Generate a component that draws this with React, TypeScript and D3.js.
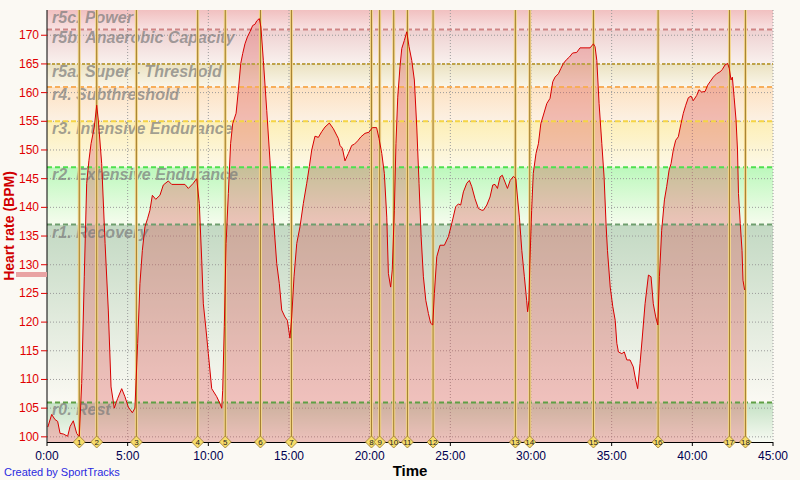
import React from 'react';
import * as d3 from 'd3';

// ---- data ----
const times = [
  0.05, 0.29, 0.5, 0.66, 0.81, 1.01, 1.28, 1.43, 1.63, 1.84, 2.0, 2.15, 2.31, 2.46, 2.6, 2.73, 2.93, 3.08, 3.18, 3.39,
  3.6, 3.8, 3.97, 4.17, 4.38, 4.63, 4.83, 5.04, 5.29, 5.45, 5.62, 5.76, 5.91, 6.07, 6.24, 6.38, 6.53, 6.74, 7.0, 7.21,
  7.52, 7.73, 8.55, 8.76, 9.07, 9.17, 9.28, 9.44, 9.59, 9.69, 9.86, 10.0, 10.21, 10.52, 10.72, 10.83, 10.89, 10.99, 11.1, 11.24,
  11.38, 11.51, 11.72, 11.86, 12.01, 12.13, 12.27, 12.42, 12.58, 12.75, 12.89, 13.0, 13.16, 13.26, 13.41, 13.62, 13.82, 14.03, 14.24, 14.4,
  14.55, 14.75, 14.9, 15.06, 15.17, 15.31, 15.48, 15.68, 15.89, 16.1, 16.26, 16.41, 16.61, 16.82, 17.03, 17.23, 17.5, 17.75, 17.95, 18.06,
  18.16, 18.31, 18.47, 18.68, 18.89, 19.05, 19.26, 19.46, 19.71, 19.96, 20.17, 20.43, 20.58, 20.75, 20.91, 21.06, 21.16, 21.3, 21.4, 21.53,
  21.63, 21.74, 21.88, 21.99, 22.15, 22.3, 22.44, 22.61, 22.77, 22.92, 23.06, 23.19, 23.33, 23.48, 23.64, 23.78, 23.91, 24.01, 24.16, 24.36,
  24.63, 24.88, 25.09, 25.33, 25.5, 25.64, 25.81, 26.02, 26.18, 26.33, 26.53, 26.74, 26.95, 27.05, 27.26, 27.46, 27.63, 27.77, 27.92, 28.08,
  28.22, 28.39, 28.54, 28.71, 28.91, 29.06, 29.16, 29.28, 29.43, 29.59, 29.73, 29.79, 29.87, 29.93, 30.04, 30.14, 30.31, 30.46, 30.61, 30.77,
  30.98, 31.18, 31.35, 31.49, 31.7, 31.85, 32.01, 32.22, 32.38, 32.58, 32.83, 33.04, 33.66, 33.87, 33.97, 34.08, 34.22, 34.39, 34.53, 34.66,
  34.74, 34.91, 35.07, 35.22, 35.32, 35.42, 35.63, 35.78, 35.94, 36.14, 36.34, 36.49, 36.61, 36.76, 36.9, 37.07, 37.28, 37.44, 37.58, 37.73,
  37.86, 37.96, 38.1, 38.27, 38.41, 38.56, 38.68, 38.82, 38.97, 39.13, 39.3, 39.44, 39.59, 39.75, 39.92, 40.06, 40.27, 40.41, 40.58, 40.79,
  40.95, 41.1, 41.3, 41.51, 41.71, 41.85, 42.02, 42.19, 42.29, 42.4, 42.48, 42.59, 42.71, 42.8, 42.86, 42.97, 43.08, 43.14, 43.24,
];
const heartRate = [
  101.7, 103.9, 103.0, 102.7, 100.6, 100.5, 100.1, 101.8, 102.8, 100.6, 100.0, 109.3, 127.9, 144.2, 148.2, 151.1, 154.0, 157.8, 155.2, 147.6,
  133.7, 122.1, 108.7, 105.0, 106.7, 108.4, 107.0, 105.2, 104.2, 105.0, 116.3, 126.7, 132.5, 136.6, 138.1, 139.5, 142.1, 141.4, 142.1, 143.9,
  144.6, 144.0, 144.0, 143.3, 144.2, 144.6, 145.0, 140.7, 130.8, 123.2, 118.6, 114.5, 108.4, 107.0, 105.8, 105.0, 108.1, 119.2, 133.7, 142.4,
  151.1, 154.6, 156.4, 160.4, 165.1, 166.8, 168.5, 169.7, 170.6, 171.7, 171.9, 172.5, 172.9, 171.4, 165.6, 156.9, 148.2, 138.3, 130.2, 126.7,
  122.1, 120.9, 120.3, 117.2, 120.9, 127.9, 133.7, 136.6, 140.7, 144.2, 147.1, 150.0, 152.4, 152.2, 153.2, 154.0, 154.7, 153.7, 152.6, 152.0,
  150.8, 150.3, 148.1, 149.4, 150.8, 151.0, 151.6, 152.3, 152.9, 153.1, 153.9, 153.9, 152.0, 149.4, 145.9, 138.3, 128.5, 126.1, 129.1, 139.5,
  151.1, 159.2, 164.5, 167.7, 169.1, 170.6, 168.0, 165.6, 162.2, 154.0, 144.2, 134.9, 127.9, 123.8, 121.5, 119.8, 119.5, 125.0, 131.4, 133.4,
  133.4, 134.9, 137.2, 140.1, 140.6, 140.4, 142.7, 144.2, 144.7, 143.6, 141.5, 139.8, 139.5, 139.5, 140.4, 141.8, 143.9, 144.0, 143.3, 145.3,
  145.6, 144.4, 143.3, 144.7, 145.4, 145.0, 141.8, 138.3, 132.5, 127.9, 123.8, 121.8, 123.8, 130.2, 139.5, 145.9, 149.4, 151.1, 154.6, 156.1,
  158.1, 159.0, 161.9, 162.7, 163.3, 164.2, 165.1, 165.8, 166.2, 166.9, 167.0, 167.8, 167.8, 168.5, 168.0, 165.6, 158.1, 151.1, 145.3, 136.6,
  132.5, 126.1, 122.7, 120.3, 116.3, 114.8, 114.5, 114.8, 113.4, 113.4, 112.2, 109.9, 108.4, 112.8, 117.4, 123.2, 128.2, 127.9, 123.2, 120.9,
  119.5, 127.9, 136.0, 141.3, 143.6, 146.5, 147.6, 150.0, 151.7, 152.3, 154.6, 156.4, 157.8, 159.1, 159.4, 158.6, 159.5, 160.5, 160.1, 160.2,
  161.3, 161.9, 162.7, 163.3, 163.6, 164.0, 164.8, 165.1, 164.2, 162.2, 162.7, 159.2, 155.2, 150.0, 142.4, 137.2, 132.5, 127.3, 125.6,
];
const lapTimes = [2.0, 3.08, 5.54, 9.34, 11.05, 13.23, 15.15, 20.11, 20.62, 21.49, 22.34, 23.93, 29.03, 29.92, 33.87, 37.88, 42.3, 43.29];
const zoneNames = [
  'r0. Rest', 'r1. Recovery', 'r2. Extensive Endurance', 'r3. Intensive Endurance',
  'r4. Subthreshold', 'r5a. Super - Threshold', 'r5b. Anaerobic Capacity', 'r5c. Power',
];
const zoneUpperBounds = [106, 137, 147, 155, 161, 165, 171];
const yTicks = [100, 105, 110, 115, 120, 125, 130, 135, 140, 145, 150, 155, 160, 165, 170];
const xTicks = [0, 5, 10, 15, 20, 25, 30, 35, 40, 45];
const xTickLabels = ['0:00', '5:00', '10:00', '15:00', '20:00', '25:00', '30:00', '35:00', '40:00', '45:00'];

// ---- styles ----
const zoneTop = ['#c4e1c4', '#c3d9c3', '#bcf8bc', '#fdefb6', '#fde2c2', '#ebe2c1', '#eed0d0', '#f1c0c0'];
const zoneBottom = ['#f7faf2', '#fbf9f3', '#f6fcee', '#fcf8e8', '#fcf1e4', '#faf6ea', '#f9f1ee', '#f8e2e2'];
const lineColors = ['#5f9f45', '#6e9e6e', '#4fe04f', '#f5d545', '#f7ae5a', '#bfa245', '#cf8585'];
const lineDash = ['5,3', '5,3', '5,3', '5,3', '5,3', '3,2', '5,3'];

const W = 800, H = 480;
const L = 47, R = 773, T = 10, B = 442;
const FONT = '"Liberation Sans", Arial, sans-serif';

export default function App() {
  const x = d3.scaleLinear().domain([0, 45]).range([L, R]);
  const y = d3.scaleLinear().domain([99.1, 174.4]).range([B, T]);
  const pts: [number, number][] = times.map((t, i) => [t, heartRate[i]]);
  const area = d3.area<[number, number]>().x(d => x(d[0])).y0(B).y1(d => y(d[1]))(pts) || '';
  const line = d3.line<[number, number]>().x(d => x(d[0])).y(d => y(d[1]))(pts) || '';
  const bounds = [y.domain()[0], ...zoneUpperBounds, y.domain()[1]];

  return (
    <svg width={W} height={H} style={{ position: 'absolute', left: 0, top: 0 }} fontFamily={FONT}>
      <defs>
        {zoneNames.map((_, i) => (
          <linearGradient key={i} id={`zg${i}`} x1="0" y1="0" x2="0" y2="1">
            <stop offset="0" stopColor={zoneTop[i]} />
            <stop offset="1" stopColor={zoneBottom[i]} />
          </linearGradient>
        ))}
      </defs>
      <rect x={0} y={0} width={W} height={H} fill="#fbf9f3" />
      {/* zones */}
      {zoneNames.map((_, i) => (
        <rect key={i} x={L} y={y(bounds[i + 1])} width={R - L} height={y(bounds[i]) - y(bounds[i + 1])} fill={`url(#zg${i})`} />
      ))}
      {/* grid */}
      {yTicks.map(v => (
        <line key={v} x1={L} x2={R} y1={y(v)} y2={y(v)} stroke="#9a9a9a" strokeDasharray="1,2" />
      ))}
      {xTicks.slice(1).map(v => (
        <line key={v} x1={x(v)} x2={x(v)} y1={T} y2={B} stroke="#9a9a9a" strokeDasharray="1,2" />
      ))}
      {/* area */}
      <path d={area} fill="rgba(220,80,80,0.33)" />
      {/* zone lines */}
      {zoneUpperBounds.map((v, i) => (
        <line key={v} x1={L} x2={R} y1={y(v)} y2={y(v)} stroke={lineColors[i]} strokeWidth={2} strokeDasharray={lineDash[i]} />
      ))}
      {/* zone labels */}
      {zoneNames.map((n, i) => (
        <text key={n} x={L + 5} y={y(bounds[i + 1]) + 13} fontSize={16} fontWeight="bold" fontStyle="italic" fill="#7a7a7a" fillOpacity={0.7}>{n}</text>
      ))}
      {/* lap lines */}
      {lapTimes.map((t, i) => (
        <g key={i}>
          <line x1={x(t)} x2={x(t)} y1={T} y2={B} stroke="#f3d68c" strokeWidth={3} />
          <line x1={x(t)} x2={x(t)} y1={T} y2={B} stroke="#a07c2c" strokeWidth={1} />
        </g>
      ))}
      {/* HR line */}
      <path d={line} fill="none" stroke="#d80000" strokeWidth={1} />
      {/* axes */}
      <line x1={L} x2={L} y1={T} y2={B} stroke="#000" />
      <line x1={L} x2={R} y1={B + 0.5} y2={B + 0.5} stroke="#000" />
      {yTicks.map(v => (
        <g key={v}>
          <line x1={L - 6} x2={L} y1={y(v)} y2={y(v)} stroke="#e00000" />
          <text x={L - 8} y={y(v) + 4} textAnchor="end" fontSize={12} fill="#e00000">{v}</text>
        </g>
      ))}
      {xTicks.map((v, i) => (
        <g key={v}>
          <line x1={x(v)} x2={x(v)} y1={B} y2={B + 4} stroke="#000" />
          <text x={x(v)} y={B + 18} textAnchor="middle" fontSize={12} fill="#000050">{xTickLabels[i]}</text>
        </g>
      ))}
      {/* lap markers */}
      {lapTimes.map((t, i) => (
        <g key={i}>
          <path d={`M${x(t)},${B - 6}L${x(t) + 6},${B}L${x(t)},${B + 6}L${x(t) - 6},${B}Z`} fill="#f6dc6a" stroke="#9a7a30" strokeWidth={0.8} />
          <text x={x(t)} y={B + 3} textAnchor="middle" fontSize={8} fill="#222">{i + 1}</text>
        </g>
      ))}
      <text x={(L + R) / 2} y={476} textAnchor="middle" fontSize={15} fontWeight="bold" fill="#000">Time</text>
      <text transform={`translate(14,${(T + B) / 2}) rotate(-90)`} textAnchor="middle" fontSize={14} fontWeight="bold" fill="#d00000">Heart rate (BPM)</text>
      <rect x={16} y={272} width={31} height={5} fill="#e9a3a3" />
      <text x={4} y={476} fontSize={11} fill="#2a2ae0">Created by SportTracks</text>
    </svg>
  );
}
